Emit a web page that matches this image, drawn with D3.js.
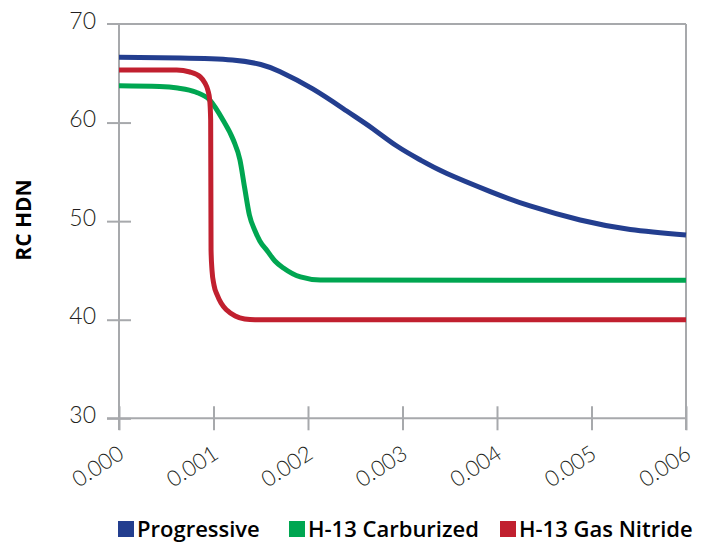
<!DOCTYPE html>
<html>
<head>
<meta charset="utf-8">
<script src="https://cdn.jsdelivr.net/npm/d3@7"></script>
<style>
  html, body { margin: 0; padding: 0; background: #fff; }
  svg { display: block; }
</style>
</head>
<body>
<svg id="chart" width="707" height="542"></svg>
<script>
// ---- data ----
const xTicks = [0, 0.001, 0.002, 0.003, 0.004, 0.005, 0.006];
const xTickLabels = ["0.000", "0.001", "0.002", "0.003", "0.004", "0.005", "0.006"];
const yTicks = [30, 40, 50, 60, 70];
const seriesNames = ["Progressive", "H-13 Carburized", "H-13 Gas Nitride"];
const seriesColors = ["#233e8f", "#00a651", "#c1202f"];

const progressiveX = [0, 0.00065, 0.0012, 0.0015, 0.0017, 0.00205, 0.00241, 0.00269, 0.00294, 0.00319, 0.00347, 0.00393, 0.00435, 0.00488, 0.00541, 0.006];
const progressiveY = [66.62, 66.55, 66.35, 65.89, 65.18, 63.41, 61.17, 59.35, 57.62, 56.2, 54.83, 53.0, 51.54, 50.12, 49.16, 48.6];

const carburizedX = [0, 0.00043, 0.00062, 0.00081, 0.00096, 0.0011, 0.00121, 0.00128, 0.00133, 0.00138, 0.00144, 0.00149, 0.00157, 0.00165, 0.00174, 0.00192, 0.00213, 0.006];
const carburizedY = [63.74, 63.66, 63.5, 63.1, 62.29, 60.26, 58.23, 56.2, 53.36, 50.62, 49.0, 47.99, 46.97, 45.96, 45.25, 44.34, 44.03, 44.0];

const nitrideX = [0, 0.00061, 0.00075, 0.00086, 0.00091, 0.00094, 0.00096, 0.00097, 0.000974, 0.000984, 0.001005, 0.00104, 0.00108, 0.00114, 0.00123, 0.00133, 0.00144, 0.006];
const nitrideY = [65.33, 65.33, 65.13, 64.63, 64.0, 63.3, 62.29, 60.26, 47.07, 45.04, 43.52, 42.5, 41.69, 40.98, 40.37, 40.07, 40.0, 40.0];

const seriesX = [progressiveX, carburizedX, nitrideX];
const seriesY = [progressiveY, carburizedY, nitrideY];

// ---- layout ----
const svg = d3.select("#chart");
const mLeft = 119, mRight = 686, mTop = 24, mBottom = 418.3;
const x = d3.scaleLinear().domain([0, 0.006]).range([mLeft, mRight]);
const y = d3.scaleLinear().domain([30, 70]).range([mBottom, mTop]);
const axisColor = "#a7a9ac";
const textColor = "#231f20";
const boldFont = "'Open Sans', Lato, sans-serif";
const lightFont = "Lato, 'Open Sans', sans-serif";

// frame: top line and right line
svg.append("line").attr("x1", 107).attr("x2", mRight).attr("y1", mTop).attr("y2", mTop)
  .attr("stroke", axisColor).attr("stroke-width", 2);
svg.append("line").attr("x1", mRight).attr("x2", mRight).attr("y1", mTop).attr("y2", 430)
  .attr("stroke", axisColor).attr("stroke-width", 2);

// y axis
const yAxis = d3.axisLeft(y).tickValues(yTicks).tickSize(0).tickFormat(d3.format("d"));
const gy = svg.append("g").attr("transform", `translate(${mLeft},0)`).call(yAxis);
gy.select(".domain").remove();
gy.selectAll(".tick text")
  .attr("x", -23).attr("dy", "4px")
  .attr("font-family", lightFont)
  .attr("font-weight", 300)
  .attr("font-size", 23)
  .attr("fill", textColor);
gy.selectAll(".tick").filter(d => d !== 70).append("line")
  .attr("x1", -12).attr("x2", 12).attr("stroke", axisColor).attr("stroke-width", 2);
svg.append("line").attr("x1", mLeft).attr("x2", mLeft).attr("y1", mTop).attr("y2", 430)
  .attr("stroke", axisColor).attr("stroke-width", 2);

// x axis
const xAxis = d3.axisBottom(x).tickValues(xTicks).tickSize(0).tickFormat((d, i) => xTickLabels[i]);
const gx = svg.append("g").attr("transform", `translate(0,${mBottom})`).call(xAxis);
gx.select(".domain").remove();
svg.append("line").attr("x1", 107).attr("x2", mRight).attr("y1", mBottom).attr("y2", mBottom)
  .attr("stroke", axisColor).attr("stroke-width", 2);
gx.selectAll(".tick").append("line")
  .attr("y1", -12).attr("y2", 12).attr("stroke", axisColor).attr("stroke-width", 2);
gx.selectAll(".tick text")
  .attr("x", 0).attr("y", 0).attr("dy", 0)
  .attr("text-anchor", "end")
  .attr("transform", "translate(6,39) rotate(-33)")
  .attr("font-family", lightFont)
  .attr("font-weight", 300)
  .attr("font-size", 22)
  .attr("fill", textColor);

// lines
const curves = [d3.curveNatural, d3.curveMonotoneX, d3.curveMonotoneX];
seriesNames.forEach((name, i) => {
  const line = d3.line().x(d => x(d[0])).y(d => y(d[1])).curve(curves[i]);
  const pts = seriesX[i].map((v, j) => [v, seriesY[i][j]]);
  svg.append("path").datum(pts)
    .attr("d", line)
    .attr("fill", "none")
    .attr("stroke", seriesColors[i])
    .attr("stroke-width", 5)
    .attr("stroke-linejoin", "round")
    .attr("stroke-linecap", "butt");
});

// y label
svg.append("text")
  .attr("transform", "translate(31,220) rotate(-90)")
  .attr("text-anchor", "middle")
  .attr("font-family", boldFont)
  .attr("font-weight", 700)
  .attr("font-size", 21)
  .attr("fill", "#000")
  .text("RC HDN");

// legend
const legendX = [118, 289, 500];
const legend = svg.append("g");
seriesNames.forEach((name, i) => {
  const g = legend.append("g").attr("transform", `translate(${legendX[i]},0)`);
  g.append("rect").attr("x", 0).attr("y", 521).attr("width", 16).attr("height", 16)
    .attr("fill", seriesColors[i]);
  g.append("text").attr("x", 19).attr("y", 537)
    .attr("font-family", boldFont)
    .attr("font-weight", 600)
    .attr("font-size", 22)
    .attr("fill", "#000")
    .text(name);
});
</script>
</body>
</html>
